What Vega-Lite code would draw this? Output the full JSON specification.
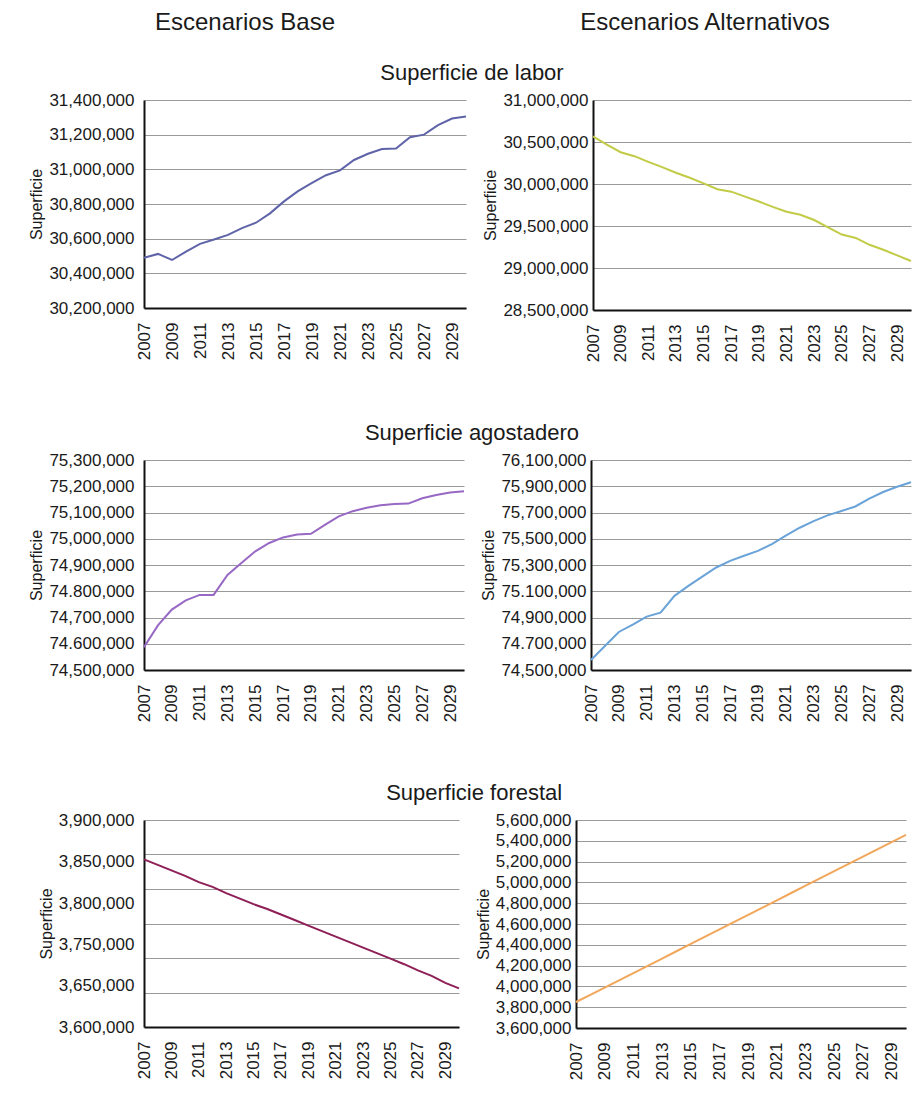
{
  "$schema": "https://vega.github.io/schema/vega-lite/v6.json",
  "background": "white",
  "padding": {"left": 28, "top": 10, "right": 2, "bottom": 4},
  "config": {
    "font": "Liberation Sans",
    "view": {"stroke": null},
    "axis": {
      "labelFontSize": 17, "labelColor": "#1a1a1a", "labelOverlap": false, "labelFlush": false,
      "titleFontSize": 16, "titleFontWeight": "normal", "titleColor": "#1a1a1a",
      "domainColor": "#111111", "domainWidth": 2, "ticks": false,
      "gridColor": "#9a9a9a", "gridWidth": 1
    },
    "axisX": {"grid": false, "labelPadding": 14, "labelAngle": -90},
    "axisY": {"labelPadding": 10, "titlePadding": 4},
    "title": {"fontWeight": "normal", "color": "#1a1a1a", "anchor": "middle", "font": "Liberation Sans"}
  },
  "datasets": {
    "labor_base": [
      {"year": 2007, "superficie": 30490000}, {"year": 2008, "superficie": 30512000}, {"year": 2009, "superficie": 30477000},
      {"year": 2010, "superficie": 30525000}, {"year": 2011, "superficie": 30570000}, {"year": 2012, "superficie": 30595000},
      {"year": 2013, "superficie": 30622000}, {"year": 2014, "superficie": 30661000}, {"year": 2015, "superficie": 30692000},
      {"year": 2016, "superficie": 30746000}, {"year": 2017, "superficie": 30815000}, {"year": 2018, "superficie": 30874000},
      {"year": 2019, "superficie": 30922000}, {"year": 2020, "superficie": 30966000}, {"year": 2021, "superficie": 30994000},
      {"year": 2022, "superficie": 31054000}, {"year": 2023, "superficie": 31090000}, {"year": 2024, "superficie": 31117000},
      {"year": 2025, "superficie": 31120000}, {"year": 2026, "superficie": 31185000}, {"year": 2027, "superficie": 31200000},
      {"year": 2028, "superficie": 31255000}, {"year": 2029, "superficie": 31293000}, {"year": 2030, "superficie": 31305000}
    ],
    "labor_alt": [
      {"year": 2007, "superficie": 30567000}, {"year": 2008, "superficie": 30468000}, {"year": 2009, "superficie": 30378000},
      {"year": 2010, "superficie": 30331000}, {"year": 2011, "superficie": 30264000}, {"year": 2012, "superficie": 30201000},
      {"year": 2013, "superficie": 30134000}, {"year": 2014, "superficie": 30075000}, {"year": 2015, "superficie": 30008000},
      {"year": 2016, "superficie": 29937000}, {"year": 2017, "superficie": 29909000}, {"year": 2018, "superficie": 29850000},
      {"year": 2019, "superficie": 29791000}, {"year": 2020, "superficie": 29728000}, {"year": 2021, "superficie": 29669000},
      {"year": 2022, "superficie": 29634000}, {"year": 2023, "superficie": 29571000}, {"year": 2024, "superficie": 29484000},
      {"year": 2025, "superficie": 29398000}, {"year": 2026, "superficie": 29358000}, {"year": 2027, "superficie": 29276000},
      {"year": 2028, "superficie": 29217000}, {"year": 2029, "superficie": 29150000}, {"year": 2030, "superficie": 29083000}
    ],
    "agost_base": [
      {"year": 2007, "superficie": 74587000}, {"year": 2008, "superficie": 74670000}, {"year": 2009, "superficie": 74730000},
      {"year": 2010, "superficie": 74765000}, {"year": 2011, "superficie": 74786000}, {"year": 2012, "superficie": 74786000},
      {"year": 2013, "superficie": 74862000}, {"year": 2014, "superficie": 74908000}, {"year": 2015, "superficie": 74952000},
      {"year": 2016, "superficie": 74984000}, {"year": 2017, "superficie": 75005000}, {"year": 2018, "superficie": 75016000},
      {"year": 2019, "superficie": 75019000}, {"year": 2020, "superficie": 75053000}, {"year": 2021, "superficie": 75085000},
      {"year": 2022, "superficie": 75105000}, {"year": 2023, "superficie": 75118000}, {"year": 2024, "superficie": 75128000},
      {"year": 2025, "superficie": 75132000}, {"year": 2026, "superficie": 75134000}, {"year": 2027, "superficie": 75154000},
      {"year": 2028, "superficie": 75167000}, {"year": 2029, "superficie": 75176000}, {"year": 2030, "superficie": 75181000}
    ],
    "agost_alt": [
      {"year": 2007, "superficie": 74576000}, {"year": 2008, "superficie": 74683000}, {"year": 2009, "superficie": 74790000},
      {"year": 2010, "superficie": 74846000}, {"year": 2011, "superficie": 74907000}, {"year": 2012, "superficie": 74937000},
      {"year": 2013, "superficie": 75065000}, {"year": 2014, "superficie": 75141000}, {"year": 2015, "superficie": 75212000},
      {"year": 2016, "superficie": 75281000}, {"year": 2017, "superficie": 75332000}, {"year": 2018, "superficie": 75370000},
      {"year": 2019, "superficie": 75408000}, {"year": 2020, "superficie": 75459000}, {"year": 2021, "superficie": 75523000},
      {"year": 2022, "superficie": 75584000}, {"year": 2023, "superficie": 75634000}, {"year": 2024, "superficie": 75678000},
      {"year": 2025, "superficie": 75711000}, {"year": 2026, "superficie": 75746000}, {"year": 2027, "superficie": 75805000},
      {"year": 2028, "superficie": 75856000}, {"year": 2029, "superficie": 75896000}, {"year": 2030, "superficie": 75930000}
    ],
    "forest_base": [
      {"year": 2007, "superficie": 3843000}, {"year": 2008, "superficie": 3835000}, {"year": 2009, "superficie": 3827000},
      {"year": 2010, "superficie": 3819000}, {"year": 2011, "superficie": 3810000}, {"year": 2012, "superficie": 3803000},
      {"year": 2013, "superficie": 3794000}, {"year": 2014, "superficie": 3786000}, {"year": 2015, "superficie": 3778000},
      {"year": 2016, "superficie": 3771000}, {"year": 2017, "superficie": 3763000}, {"year": 2018, "superficie": 3755000},
      {"year": 2019, "superficie": 3747000}, {"year": 2020, "superficie": 3739000}, {"year": 2021, "superficie": 3731000},
      {"year": 2022, "superficie": 3723000}, {"year": 2023, "superficie": 3715000}, {"year": 2024, "superficie": 3707000},
      {"year": 2025, "superficie": 3699000}, {"year": 2026, "superficie": 3691000}, {"year": 2027, "superficie": 3682000},
      {"year": 2028, "superficie": 3674000}, {"year": 2029, "superficie": 3664000}, {"year": 2030, "superficie": 3656000}
    ],
    "forest_alt": [
      {"year": 2007, "superficie": 3850000}, {"year": 2008, "superficie": 3919000}, {"year": 2009, "superficie": 3989000},
      {"year": 2010, "superficie": 4058000}, {"year": 2011, "superficie": 4128000}, {"year": 2012, "superficie": 4198000},
      {"year": 2013, "superficie": 4268000}, {"year": 2014, "superficie": 4338000}, {"year": 2015, "superficie": 4408000},
      {"year": 2016, "superficie": 4478000}, {"year": 2017, "superficie": 4548000}, {"year": 2018, "superficie": 4618000},
      {"year": 2019, "superficie": 4688000}, {"year": 2020, "superficie": 4758000}, {"year": 2021, "superficie": 4828000},
      {"year": 2022, "superficie": 4898000}, {"year": 2023, "superficie": 4968000}, {"year": 2024, "superficie": 5038000},
      {"year": 2025, "superficie": 5108000}, {"year": 2026, "superficie": 5178000}, {"year": 2027, "superficie": 5248000},
      {"year": 2028, "superficie": 5318000}, {"year": 2029, "superficie": 5388000}, {"year": 2030, "superficie": 5456000}
    ]
  },
  "vconcat": [
    {
      "hconcat": [
        {"title": {"text": "Escenarios Base", "fontSize": 24, "offset": 2, "dx": -60}, "width": 322, "height": 1, "data": {"values": [{}]}, "mark": {"type": "point", "opacity": 0}, "encoding": {}},
        {"title": {"text": "Escenarios Alternativos", "fontSize": 24, "offset": 2, "dx": 10}, "width": 434, "height": 1, "data": {"values": [{}]}, "mark": {"type": "point", "opacity": 0}, "encoding": {}}
      ],
      "spacing": 12
    },
    {
      "spacing": 60,
      "vconcat": [
        {
          "title": {"text": "Superficie de labor", "fontSize": 22, "offset": 6},
          "spacing": 12,
          "hconcat": [
            {
              "width": 322, "height": 208,
              "data": {"name": "labor_base"},
              "mark": {"type": "line", "color": "#5f63a8", "strokeWidth": 2},
              "encoding": {
                "x": {"field": "year", "type": "quantitative", "scale": {"domain": [2007, 2030], "nice": false, "zero": false},
                      "axis": {"values": [2007, 2009, 2011, 2013, 2015, 2017, 2019, 2021, 2023, 2025, 2027, 2029], "format": "d", "title": null}},
                "y": {"field": "superficie", "type": "quantitative", "scale": {"domain": [30200000, 31400000], "nice": false, "zero": false},
                      "axis": {"values": [30200000, 30400000, 30600000, 30800000, 31000000, 31200000, 31400000], "format": ",d", "title": "Superficie"}}
              }
            },
            {
              "width": 318, "height": 210,
              "data": {"name": "labor_alt"},
              "mark": {"type": "line", "color": "#c2cb45", "strokeWidth": 2},
              "encoding": {
                "x": {"field": "year", "type": "quantitative", "scale": {"domain": [2007, 2030], "nice": false, "zero": false},
                      "axis": {"values": [2007, 2009, 2011, 2013, 2015, 2017, 2019, 2021, 2023, 2025, 2027, 2029], "format": "d", "title": null}},
                "y": {"field": "superficie", "type": "quantitative", "scale": {"domain": [28500000, 31000000], "nice": false, "zero": false},
                      "axis": {"values": [28500000, 29000000, 29500000, 30000000, 30500000, 31000000], "format": ",d", "title": "Superficie", "labelPadding": 5}}
              }
            }
          ]
        },
        {
          "title": {"text": "Superficie agostadero", "fontSize": 22, "offset": 6},
          "spacing": 12,
          "hconcat": [
            {
              "width": 320, "height": 210,
              "data": {"name": "agost_base"},
              "mark": {"type": "line", "color": "#9768c4", "strokeWidth": 2},
              "encoding": {
                "x": {"field": "year", "type": "quantitative", "scale": {"domain": [2007, 2030], "nice": false, "zero": false},
                      "axis": {"values": [2007, 2009, 2011, 2013, 2015, 2017, 2019, 2021, 2023, 2025, 2027, 2029], "format": "d", "title": null}},
                "y": {"field": "superficie", "type": "quantitative", "scale": {"domain": [74500000, 75300000], "nice": false, "zero": false},
                      "axis": {"values": [74500000, 74600000, 74700000, 74800000, 74900000, 75000000, 75100000, 75200000, 75300000], "title": "Superficie",
                               "labelExpr": "(datum.value == 74800000 || datum.value == 74600000) ? replace(format(datum.value, ','), ',', '.') : format(datum.value, ',')"}}
              }
            },
            {
              "width": 320, "height": 210,
              "data": {"name": "agost_alt"},
              "mark": {"type": "line", "color": "#6aa3d8", "strokeWidth": 2},
              "encoding": {
                "x": {"field": "year", "type": "quantitative", "scale": {"domain": [2007, 2030], "nice": false, "zero": false},
                      "axis": {"values": [2007, 2009, 2011, 2013, 2015, 2017, 2019, 2021, 2023, 2025, 2027, 2029], "format": "d", "title": null}},
                "y": {"field": "superficie", "type": "quantitative", "scale": {"domain": [74500000, 76100000], "nice": false, "zero": false},
                      "axis": {"values": [74500000, 74700000, 74900000, 75100000, 75300000, 75500000, 75700000, 75900000, 76100000], "title": "Superficie", "labelPadding": 5,
                               "labelExpr": "(datum.value == 75100000 || datum.value == 74700000) ? replace(format(datum.value, ','), ',', '.') : format(datum.value, ',')"}}
              }
            }
          ]
        },
        {
          "title": {"text": "Superficie forestal", "fontSize": 22, "offset": 6},
          "spacing": 12,
          "hconcat": [
            {
              "width": 315, "height": 207,
              "data": {"name": "forest_base"},
              "mark": {"type": "line", "color": "#8e1f57", "strokeWidth": 2},
              "encoding": {
                "x": {"field": "year", "type": "quantitative", "scale": {"domain": [2007, 2030], "nice": false, "zero": false},
                      "axis": {"values": [2007, 2009, 2011, 2013, 2015, 2017, 2019, 2021, 2023, 2025, 2027, 2029], "format": "d", "title": null}},
                "y": {"field": "superficie", "type": "quantitative", "scale": {"domain": [3600000, 3900000], "nice": false, "zero": false},
                      "axis": {"values": [3600000, 3650000, 3700000, 3750000, 3800000, 3850000, 3900000], "title": "Superficie",
                               "labelExpr": "datum.value == 3750000 ? '' : datum.value == 3700000 ? '3,750,000' : format(datum.value, ',')",
                               "labelOffset": {"condition": [
                                 {"test": "datum.value == 3850000", "value": 7},
                                 {"test": "datum.value == 3800000", "value": 14},
                                 {"test": "datum.value == 3700000", "value": -14},
                                 {"test": "datum.value == 3650000", "value": -7}
                               ], "value": 0}}}
              }
            },
            {
              "width": 330, "height": 208,
              "data": {"name": "forest_alt"},
              "mark": {"type": "line", "color": "#f2a65a", "strokeWidth": 2},
              "encoding": {
                "x": {"field": "year", "type": "quantitative", "scale": {"domain": [2007, 2030], "nice": false, "zero": false},
                      "axis": {"values": [2007, 2009, 2011, 2013, 2015, 2017, 2019, 2021, 2023, 2025, 2027, 2029], "format": "d", "title": null}},
                "y": {"field": "superficie", "type": "quantitative", "scale": {"domain": [3600000, 5600000], "nice": false, "zero": false},
                      "axis": {"values": [3600000, 3800000, 4000000, 4200000, 4400000, 4600000, 4800000, 5000000, 5200000, 5400000, 5600000], "format": ",d", "title": "Superficie", "labelPadding": 5}}
              }
            }
          ]
        }
      ]
    }
  ],
  "spacing": 19
}
